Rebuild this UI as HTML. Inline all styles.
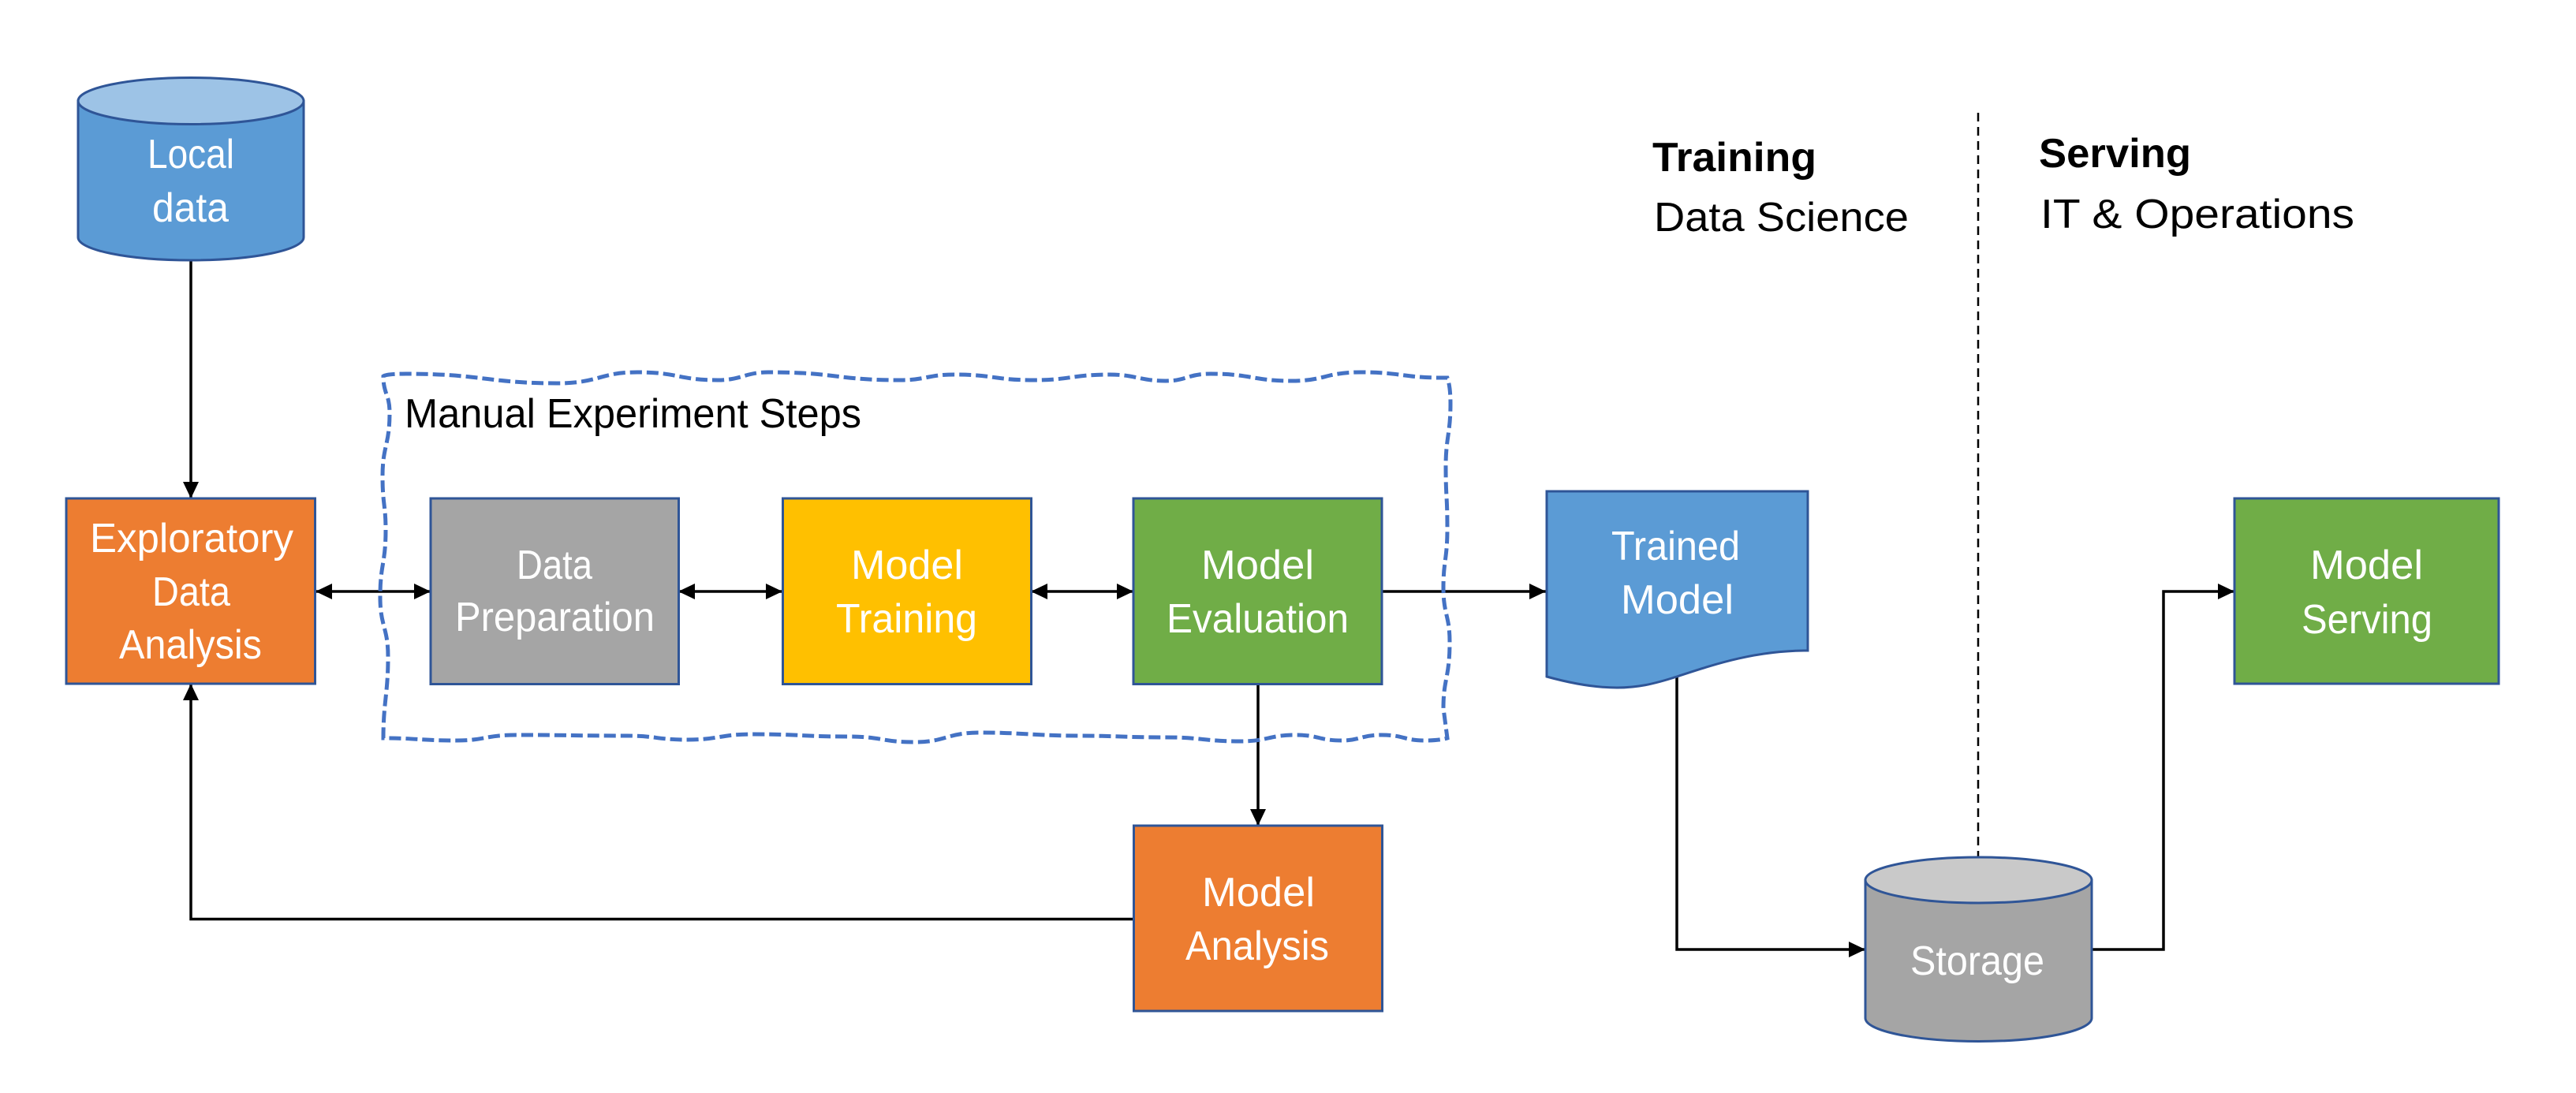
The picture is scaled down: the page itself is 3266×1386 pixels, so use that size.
<!DOCTYPE html>
<html><head><meta charset="utf-8"><style>html,body{margin:0;padding:0;background:#fff}svg{display:block}text{font-family:"Liberation Sans",sans-serif;font-size:52px;fill:#fff}.k{fill:#000}</style></head><body>
<svg width="3266" height="1386" viewBox="0 0 3266 1386" xmlns="http://www.w3.org/2000/svg">
<defs>
<marker id="e" markerUnits="userSpaceOnUse" markerWidth="22" markerHeight="22" refX="21" refY="11" orient="auto"><path d="M0 1L21 11L0 21Z" fill="#000"/></marker>
<marker id="s" markerUnits="userSpaceOnUse" markerWidth="22" markerHeight="22" refX="1" refY="11" orient="auto"><path d="M22 1L1 11L22 21Z" fill="#000"/></marker>
</defs>
<rect width="3266" height="1386" fill="#fff"/>
<g fill="none" stroke="#000" stroke-width="3.5">
<path d="M242 330V632" marker-end="url(#e)"/>
<path d="M400 750H546" marker-start="url(#s)" marker-end="url(#e)"/>
<path d="M860 750H992" marker-start="url(#s)" marker-end="url(#e)"/>
<path d="M1307 750H1437" marker-start="url(#s)" marker-end="url(#e)"/>
<path d="M1752 750H1960" marker-end="url(#e)"/>
<path d="M1595 868V1047" marker-end="url(#e)"/>
<path d="M1437 1165.500H242V867" marker-end="url(#e)"/>
<path d="M2126 858V1204H2365" marker-end="url(#e)"/>
<path d="M2652 1204H2743V750H2833" marker-end="url(#e)"/>
</g>
<path d="M2508 143V1087" fill="none" stroke="#000" stroke-width="2.500" stroke-dasharray="11 7"/>
<path fill="none" stroke="#4472C4" stroke-width="5" stroke-dasharray="15 6" d="M486 477Q490 474 515 474C610 474 620 486 706 486C760 486 760 472 808 472C860 472 860 482 910 482C940 482 945 472 974 472C1060 472 1060 482 1140 482C1175 482 1175 475 1210 475C1260 475 1260 482 1312 482C1355 482 1360 475 1407 475C1440 475 1445 483 1478 483C1505 483 1505 474 1535 474C1585 474 1590 483 1637 483C1680 483 1680 472 1726 472C1775 472 1780 479 1828 479L1835 479Q1839 490 1839 512C1839 550 1833 555 1833 592C1833 630 1835 630 1835 669C1835 710 1830 710 1830 745C1830 780 1838 780 1838 814C1838 860 1830 860 1830 898L1835 936Q1825 939 1806 939C1780 939 1780 932 1752 932C1725 932 1725 939 1701 939C1672 939 1672 932 1643 932C1608 932 1608 940 1573 940C1525 940 1525 935 1478 935C1420 935 1420 933 1369 933C1310 933 1300 929 1242 929C1200 929 1200 941 1159 941C1118 941 1118 934 1076 934C1015 934 1015 931 955 931C912 931 912 938 872 938C832 938 832 933 795 933C725 933 725 932 655 932C615 932 615 939 579 939C530 939 530 936 486 936C486 890 492 880 492 833C492 795 482 795 482 757C482 715 489 715 489 672C489 640 485 640 485 604C485 565 494 565 494 523C494 500 486 500 486 477Z"/>
<g stroke="#2F5597" stroke-width="3">
<rect x="84" y="632" width="315.500" height="235" fill="#ED7D31"/>
<rect x="546" y="632" width="314.500" height="235.500" fill="#A5A5A5"/>
<rect x="992.500" y="632" width="315" height="235.500" fill="#FFC000"/>
<rect x="1437" y="632" width="315" height="235.500" fill="#70AD47"/>
<rect x="1437.500" y="1047" width="315" height="235" fill="#ED7D31"/>
<rect x="2833" y="632" width="335" height="235" fill="#70AD47"/>
<path d="M99 128V301A143 29 0 0 0 385 301V128Z" fill="#5B9BD5"/>
<ellipse cx="242" cy="128" rx="143" ry="29.500" fill="#9DC3E6"/>
<path d="M2365 1116V1291A143.500 29.500 0 0 0 2652 1291V1116Z" fill="#A5A5A5"/>
<ellipse cx="2508.500" cy="1116" rx="143.500" ry="29" fill="#C9C9C9"/>
<path d="M1961 623H2292V825C2225 825 2175 842 2126 858C2095 868 2075 872 2050 872C2020 872 1990 866 1961 858Z" fill="#5B9BD5"/>
</g>
<g>
<text x="187" y="213" textLength="110" lengthAdjust="spacingAndGlyphs">Local</text>
<text x="193" y="281" textLength="97" lengthAdjust="spacingAndGlyphs">data</text>
<text x="114" y="700" textLength="258" lengthAdjust="spacingAndGlyphs">Exploratory</text>
<text x="193" y="768" textLength="99" lengthAdjust="spacingAndGlyphs">Data</text>
<text x="151" y="835" textLength="181" lengthAdjust="spacingAndGlyphs">Analysis</text>
<text x="655" y="734" textLength="96" lengthAdjust="spacingAndGlyphs">Data</text>
<text x="577" y="800" textLength="253" lengthAdjust="spacingAndGlyphs">Preparation</text>
<text x="1079" y="734" textLength="142" lengthAdjust="spacingAndGlyphs">Model</text>
<text x="1060" y="802" textLength="179" lengthAdjust="spacingAndGlyphs">Training</text>
<text x="1523" y="734" textLength="143" lengthAdjust="spacingAndGlyphs">Model</text>
<text x="1479" y="802" textLength="231" lengthAdjust="spacingAndGlyphs">Evaluation</text>
<text x="1524" y="1149" textLength="143" lengthAdjust="spacingAndGlyphs">Model</text>
<text x="1503" y="1217" textLength="182" lengthAdjust="spacingAndGlyphs">Analysis</text>
<text x="2043" y="710" textLength="163" lengthAdjust="spacingAndGlyphs">Trained</text>
<text x="2055" y="778" textLength="143" lengthAdjust="spacingAndGlyphs">Model</text>
<text x="2929" y="734" textLength="143" lengthAdjust="spacingAndGlyphs">Model</text>
<text x="2918" y="803" textLength="166" lengthAdjust="spacingAndGlyphs">Serving</text>
<text x="2422" y="1236" textLength="170" lengthAdjust="spacingAndGlyphs">Storage</text>
<text class="k" x="513" y="542" textLength="579" lengthAdjust="spacingAndGlyphs">Manual Experiment Steps</text>
<text class="k" x="2095" y="217" textLength="208" lengthAdjust="spacingAndGlyphs" font-weight="700">Training</text>
<text class="k" x="2097" y="293" textLength="323" lengthAdjust="spacingAndGlyphs">Data Science</text>
<text class="k" x="2585" y="212" textLength="193" lengthAdjust="spacingAndGlyphs" font-weight="700">Serving</text>
<text class="k" x="2587" y="289" textLength="398" lengthAdjust="spacingAndGlyphs">IT &amp; Operations</text>
</g>
</svg>
</body></html>
